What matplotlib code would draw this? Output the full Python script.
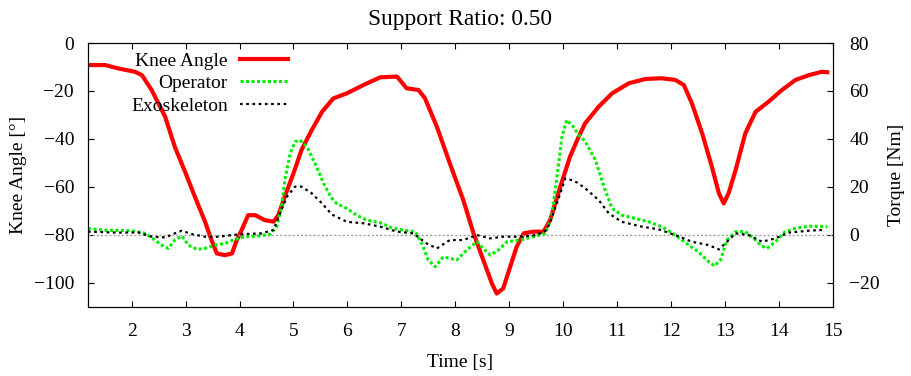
import matplotlib
matplotlib.use("Agg")
import matplotlib.pyplot as plt

plt.rcParams['font.family'] = ['Liberation Serif', 'DejaVu Serif']
plt.rcParams['font.size'] = 14

# knee angle [deg] (left axis)
t_knee = [1.19, 1.51, 1.75, 2.06, 2.19, 2.37, 2.62, 2.80, 2.99, 3.17, 3.36, 3.48, 3.58,
          3.73, 3.86, 3.95, 4.04, 4.16, 4.29, 4.47, 4.63, 4.72, 4.84, 5.00, 5.15, 5.34,
          5.53, 5.74, 5.99, 6.30, 6.61, 6.92, 7.10, 7.32, 7.44, 7.66, 7.90, 8.15, 8.34,
          8.52, 8.68, 8.77, 8.89, 9.02, 9.14, 9.27, 9.45, 9.64, 9.76, 9.95, 10.13, 10.29,
          10.41, 10.66, 10.91, 11.22, 11.53, 11.83, 12.08, 12.24, 12.39, 12.58, 12.76,
          12.89, 12.98, 13.07, 13.20, 13.38, 13.57, 13.81, 14.06, 14.31, 14.56, 14.80, 14.90]
knee = [-9.2, -9.2, -10.6, -12.0, -13.4, -19.6, -30.7, -43.3, -53.7, -64.0, -74.5, -82.2, -87.8,
        -88.5, -87.8, -82.2, -78.0, -71.8, -71.8, -73.9, -74.5, -71.8, -64.0, -54.4, -44.6, -36.3,
        -28.7, -23.1, -21.0, -17.5, -14.3, -14.0, -18.9, -19.6, -23.1, -34.9, -50.2, -65.5, -79.4,
        -90.5, -100.3, -104.5, -102.4, -93.3, -85.0, -79.4, -78.7, -78.7, -73.9, -59.9, -47.4, -39.1,
        -33.5, -26.6, -21.0, -16.8, -15.0, -14.7, -15.4, -17.5, -25.2, -37.7, -51.6,
        -62.7, -66.9, -62.7, -53.0, -37.7, -28.7, -24.5, -19.6, -15.4, -13.4, -12.0, -12.2]

# operator torque [Nm] (right axis)
t_op = [1.19, 1.51, 2.00, 2.25, 2.43, 2.56, 2.68, 2.80, 2.93, 3.05, 3.21, 3.36, 3.55, 3.73,
        3.92, 4.10, 4.35, 4.57, 4.69, 4.78, 4.84, 4.94, 5.03, 5.12, 5.25, 5.40, 5.56, 5.70,
        5.80, 5.99, 6.17, 6.36, 6.61, 6.85, 7.10, 7.26, 7.38, 7.50, 7.63, 7.78, 8.03, 8.21,
        8.40, 8.52, 8.65, 8.80, 8.96, 9.20, 9.45, 9.67, 9.79, 9.88, 9.98, 10.07, 10.19,
        10.29, 10.41, 10.60, 10.78, 10.91, 11.09, 11.34, 11.59, 11.83, 12.08, 12.33, 12.51,
        12.70, 12.81, 12.92, 13.04, 13.20, 13.38, 13.54, 13.66, 13.78, 13.94, 14.12, 14.31,
        14.56, 14.90]
operator = [2.6, 1.9, 1.7, 0.6, -2.2, -4.3, -5.7, -2.2, -0.5, -4.3, -6.1, -5.7, -4.3, -3.6,
            -1.9, -0.8, -0.5, 0.2, 3.4, 11.7, 22.8, 34.0, 38.8, 39.5, 36.7, 29.8, 21.4, 15.5,
            13.1, 11.0, 8.2, 6.1, 5.0, 2.7, 1.7, 1.3, -3.6, -10.5, -13.3, -9.2, -10.5, -6.4,
            -2.9, -5.7, -8.5, -6.4, -2.9, -2.2, -0.8, 0.6, 7.5, 22.8, 40.9, 47.9, 45.1,
            41.6, 39.0, 31.2, 18.7, 11.0, 8.2, 6.8, 5.4, 3.4, -0.1, -4.3, -7.1,
            -11.2, -13.0, -10.5, -2.2, 1.3, 1.3, -1.5, -4.3, -5.7, -2.9, 1.3, 2.7,
            3.6, 3.4]

# exoskeleton torque [Nm] (right axis)
t_exo = [1.19, 1.75, 2.12, 2.37, 2.62, 2.80, 2.93, 3.11, 3.36, 3.61, 3.86, 4.10, 4.41, 4.63,
         4.75, 4.88, 5.03, 5.15, 5.34, 5.53, 5.71, 5.99, 6.30, 6.61, 6.92, 7.22, 7.47, 7.66,
         7.90, 8.15, 8.40, 8.65, 8.89, 9.20, 9.51, 9.70, 9.82, 9.95, 10.04, 10.16, 10.26,
         10.41, 10.66, 10.85, 11.09, 11.46, 11.77, 12.08, 12.39, 12.70, 12.89, 13.04, 13.20,
         13.44, 13.69, 13.94, 14.18, 14.56, 14.80]
exo = [1.3, 0.9, 1.0, -0.8, -1.1, 0.6, 1.7, 0.3, -0.8, -0.8, -0.1, 0.3, 0.6, 2.0,
       8.9, 15.9, 20.1, 20.1, 17.3, 13.1, 8.5, 5.4, 4.8, 3.4, 1.3, 0.6, -3.6, -5.7,
       -2.2, -2.2, -0.1, -1.5, -0.8, -0.8, -0.1, 2.0, 8.9, 17.3, 23.5, 22.8, 21.8,
       19.4, 14.5, 8.9, 5.4, 3.4, 2.3, -0.1, -2.9, -4.3, -6.1, -2.9, 0.6,
       -0.1, -2.9, -1.5, 0.9, 1.7, 2.0]

fig = plt.figure(figsize=(9.11, 3.76), dpi=100)
ax1 = fig.add_axes([0.0966, 0.1843, 0.8174, 0.7013])
ax2 = ax1.twinx()

l1, = ax1.plot(t_knee, knee, color='red', lw=3.0, label='Knee Angle')
ax2.axhline(0, color='#a0a0a0', lw=1, ls=(0, (1.5, 1.5)))
l2, = ax2.plot(t_op, operator, color='#00ee00', lw=2.2, ls=(0, (1, 0.8)), label='Operator')
l3, = ax2.plot(t_exo, exo, color='black', lw=1.6, ls=(0, (1.2, 1.6)), label='Exoskeleton')

ax1.set_xlim(1.19, 15)
ax1.set_ylim(-110, 0)
ax2.set_ylim(-30, 80)
ax1.set_xticks(range(2, 16))
ax1.set_yticks([-100, -80, -60, -40, -20, 0])
ax2.set_yticks([-20, 0, 20, 40, 60, 80])

ax1.tick_params(axis='x', direction='in', top=True, length=4, pad=11.5)
ax1.tick_params(axis='y', direction='in', length=4, pad=10)
ax2.tick_params(axis='y', direction='in', length=4, pad=12)

ax1.set_xlabel('Time [s]', labelpad=10)
ax1.set_ylabel('Knee Angle [°]', labelpad=5)
ax2.set_ylabel('Torque [Nm]', labelpad=6)
ax1.set_title('Support Ratio: 0.50', pad=13)

ax2.legend([l1, l2, l3], ['Knee Angle', 'Operator', 'Exoskeleton'],
           loc='upper left', bbox_to_anchor=(0.058, 0.966), frameon=False,
           markerfirst=False, handlelength=2.5, handletextpad=0.6,
           labelspacing=0.25, borderpad=0, borderaxespad=0)

fig.savefig('out.png', dpi=100)
